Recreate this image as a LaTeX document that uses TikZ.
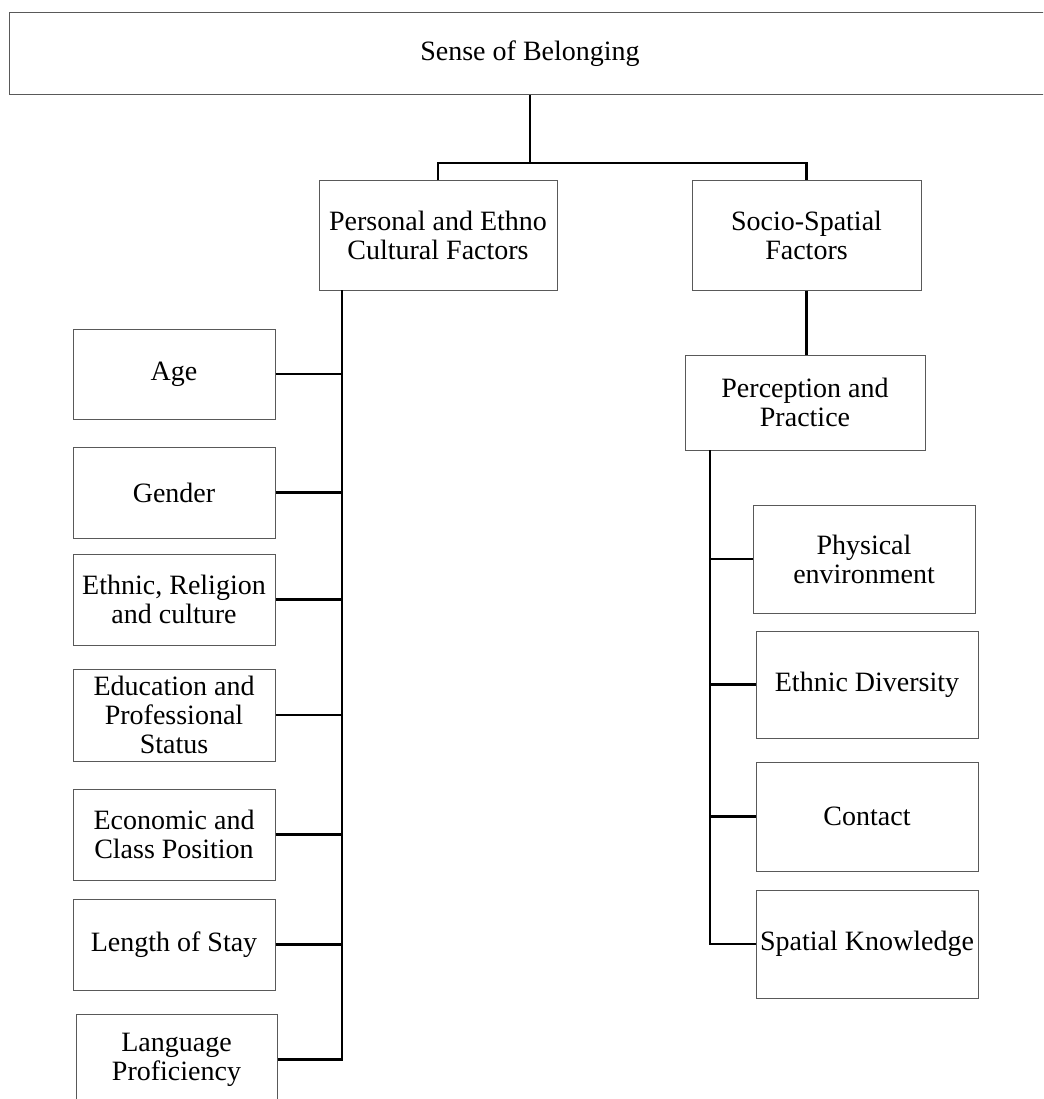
\documentclass[tikz,border=0pt]{standalone}
\usepackage{fontspec}
\setmainfont{Liberation Serif}
\begin{document}
\begin{tikzpicture}[x=1pt,y=-1pt,
  box/.style={draw=black!65, line width=1pt, rectangle, inner sep=0pt, align=center,
    font=\fontsize{28}{29}\selectfont},
  conn/.style={draw=black, line width=2.4pt}]
\clip (0,0) rectangle (1043,1099);
\fill[white] (0,0) rectangle (1043,1099);
% nodes
\node[box, minimum width=1042pt, minimum height=82pt] (top) at (530,54) {Sense of Belonging};
\node[box, minimum width=238pt, minimum height=109pt] (pers) at (438,235.5) {Personal and Ethno\\Cultural Factors};
\node[box, minimum width=229pt, minimum height=109pt] (soc) at (806.5,235.5) {Socio-Spatial\\Factors};
\node[box, minimum width=240pt, minimum height=95pt] (perc) at (805,402.5) {Perception and\\Practice};
% left column
\node[box, minimum width=202pt, minimum height=90pt] (age) at (174,374) {Age};
\node[box, minimum width=202pt, minimum height=91pt] (gen) at (174,492.5) {Gender};
\node[box, minimum width=202pt, minimum height=91pt] (eth) at (174,599.5) {Ethnic, Religion\\and culture};
\node[box, minimum width=202pt, minimum height=92pt] (edu) at (174,715) {Education and\\Professional\\Status};
\node[box, minimum width=202pt, minimum height=91pt] (eco) at (174,834.5) {Economic and\\Class Position};
\node[box, minimum width=202pt, minimum height=91pt] (len) at (174,944.5) {Length of Stay};
\node[box, minimum width=201pt, minimum height=91pt] (lang) at (176.5,1059.5) {Language\\Proficiency};
% right column
\node[box, minimum width=222pt, minimum height=108pt] (phys) at (864,559) {Physical\\environment};
\node[box, minimum width=222pt, minimum height=107pt] (ediv) at (867,684.5) {Ethnic Diversity};
\node[box, minimum width=222pt, minimum height=109pt] (cont) at (867,816.5) {Contact};
\node[box, minimum width=222pt, minimum height=108pt] (spat) at (867,944) {Spatial Knowledge};
% connectors top
\coordinate (j1) at (530,163);
\draw[conn] (top.south) -- (j1);
\draw[conn] (pers.north) |- (j1) -| (soc.north);
\draw[conn] (soc.south) -- (soc.south |- perc.north);
% left trunk
\coordinate (ltop) at (342,290);
\draw[conn] (ltop) |- (lang.east);
\foreach \n in {age,gen,eth,edu,eco,len}
  \draw[conn] (\n.east) -- (\n.east -| ltop);
% right trunk
\coordinate (rtop) at (710,450);
\draw[conn] (rtop) |- (spat.west);
\foreach \n in {phys,ediv,cont}
  \draw[conn] (\n.west) -- (\n.west -| rtop);
\end{tikzpicture}
\end{document}
